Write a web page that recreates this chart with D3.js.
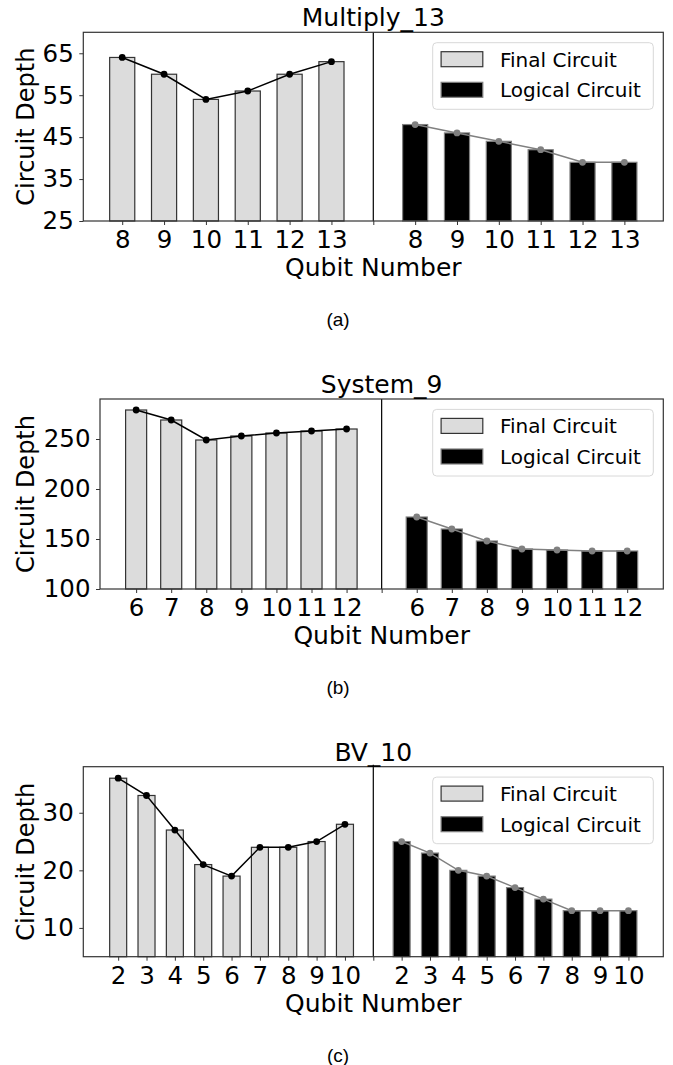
<!DOCTYPE html>
<html lang="en">
<head>
<meta charset="utf-8">
<title>Circuit Depth by Qubit Number</title>
<style>
  body { margin: 0; background: #fff; }
  svg text { font-family: "DejaVu Sans", sans-serif; fill: #000; }
  .sublabel { font-family: "Liberation Sans", Arial, sans-serif; }
</style>
</head>
<body>
<script src="https://cdn.jsdelivr.net/npm/d3@7"></script>
<script>
  // data
  var titles = ["Multiply_13", "System_9", "BV_10"];
  var subLabels = ["(a)", "(b)", "(c)"];

  var qubitsA = [8, 9, 10, 11, 12, 13];
  var finalA = [64, 60, 54, 56, 60, 63];
  var logicalA = [48, 46, 44, 42, 39, 39];
  var yTicksA = [25, 35, 45, 55, 65];
  var yRangeA = [25, 70];

  var qubitsB = [6, 7, 8, 9, 10, 11, 12];
  var finalB = [279, 269, 249, 253, 256, 258, 260];
  var logicalB = [172, 160, 148, 140, 139, 138, 138];
  var yTicksB = [100, 150, 200, 250];
  var yRangeB = [100, 290];

  var qubitsC = [2, 3, 4, 5, 6, 7, 8, 9, 10];
  var finalC = [36, 33, 27, 21, 19, 24, 24, 25, 28];
  var logicalC = [25, 23, 20, 19, 17, 15, 13, 13, 13];
  var yTicksC = [10, 20, 30];
  var yRangeC = [5, 38];

  var legendNames = ["Final Circuit", "Logical Circuit"];

  var w = 673, h = 1065;
  var svg = d3.select("body").append("svg").attr("width", w).attr("height", h);

  // axes boxes for each panel
  var panels = [
    {qubits: qubitsA, fin: finalA, log: logicalA, ticks: yTicksA, yr: yRangeA, left: 83.3, top: 32.3, bottom: 221},
    {qubits: qubitsB, fin: finalB, log: logicalB, ticks: yTicksB, yr: yRangeB, left: 100, top: 399, bottom: 589},
    {qubits: qubitsC, fin: finalC, log: logicalC, ticks: yTicksC, yr: yRangeC, left: 83.3, top: 766.7, bottom: 956.7}
  ];
  var right = 663.3;
  var barW = 0.6;

  panels.forEach(function(p, k) {
    var n = p.qubits.length;
    var span = 2 * n + barW;
    var pad = 0.05 * span;
    var x = d3.scaleLinear().domain([-barW / 2 - pad, 2 * n + barW / 2 + pad]).range([p.left, right]);
    var y = d3.scaleLinear().domain(p.yr).range([p.bottom, p.top]);

    var finData = p.fin.map(function(v, i) { return {pos: i, v: v}; });
    var logData = p.log.map(function(v, i) { return {pos: n + 1 + i, v: v}; });

    var g = svg.append("g");
    var bw = x(barW) - x(0);

    // bars
    g.selectAll("rect.fin").data(finData).enter().append("rect")
      .attr("x", function(d) { return x(d.pos) - bw / 2; })
      .attr("y", function(d) { return y(d.v); })
      .attr("width", bw)
      .attr("height", function(d) { return p.bottom - y(d.v); })
      .attr("fill", "#dcdcdc").attr("stroke", "#333").attr("stroke-width", 1.2);

    g.selectAll("rect.log").data(logData).enter().append("rect")
      .attr("x", function(d) { return x(d.pos) - bw / 2; })
      .attr("y", function(d) { return y(d.v); })
      .attr("width", bw)
      .attr("height", function(d) { return p.bottom - y(d.v); })
      .attr("fill", "#000").attr("stroke", "#808080").attr("stroke-width", 1.2);

    // lines with markers
    var line = d3.line().x(function(d) { return x(d.pos); }).y(function(d) { return y(d.v); });
    g.append("path").datum(finData).attr("d", line).attr("fill", "none").attr("stroke", "#000").attr("stroke-width", 1.5);
    g.selectAll("circle.fin").data(finData).enter().append("circle")
      .attr("cx", function(d) { return x(d.pos); }).attr("cy", function(d) { return y(d.v); })
      .attr("r", 3.4).attr("fill", "#000");
    g.append("path").datum(logData).attr("d", line).attr("fill", "none").attr("stroke", "#808080").attr("stroke-width", 1.5);
    g.selectAll("circle.log").data(logData).enter().append("circle")
      .attr("cx", function(d) { return x(d.pos); }).attr("cy", function(d) { return y(d.v); })
      .attr("r", 3.4).attr("fill", "#808080");

    // divider
    g.append("line").attr("x1", x(n)).attr("x2", x(n)).attr("y1", p.bottom).attr("y2", k == 2 ? p.top - 2 : p.top)
      .attr("stroke", "#000").attr("stroke-width", 1.2);

    // frame
    g.append("rect").attr("x", p.left).attr("y", p.top).attr("width", right - p.left).attr("height", p.bottom - p.top)
      .attr("fill", "none").attr("stroke", "#333").attr("stroke-width", 1.2);

    // axes
    var tickPos = d3.range(0, 2 * n + 1);
    var xAxis = d3.axisBottom(x).tickValues(tickPos).tickSize(4).tickPadding(5.5)
      .tickFormat(function(d) { return d < n ? p.qubits[d] : (d == n ? "" : p.qubits[d - n - 1]); });
    var ax = g.append("g").attr("transform", "translate(0," + p.bottom + ")").call(xAxis);
    ax.select(".domain").remove();
    ax.selectAll("text").style("font-size", "24.5px").attr("fill", "#000");
    ax.selectAll("line").attr("stroke", "#333");

    var yAxis = d3.axisLeft(y).tickValues(p.ticks).tickSize(4).tickPadding(5.5);
    var ay = g.append("g").attr("transform", "translate(" + p.left + ",0)").call(yAxis);
    ay.select(".domain").remove();
    ay.selectAll("text").style("font-size", "24.5px").attr("fill", "#000");
    ay.selectAll("line").attr("stroke", "#333");

    // labels
    g.append("text").text(titles[k]).attr("x", (p.left + right) / 2).attr("y", p.top - 6)
      .attr("text-anchor", "middle").style("font-size", "25px");
    g.append("text").text("Qubit Number").attr("x", x(n)).attr("y", p.bottom + 55)
      .attr("text-anchor", "middle").style("font-size", "25px");
    var cy = (p.top + p.bottom) / 2;
    g.append("text").text("Circuit Depth").attr("transform", "translate(34," + cy + ") rotate(-90)")
      .attr("text-anchor", "middle").style("font-size", "24px");
    g.append("text").text(subLabels[k]).attr("class", "sublabel").attr("x", 338).attr("y", p.bottom + 105)
      .attr("text-anchor", "middle").style("font-size", "19px");

    // legend
    var lg = g.append("g").attr("transform", "translate(" + (right - 230.6) + "," + (p.top + 10.4) + ")");
    lg.append("rect").attr("width", 220.6).attr("height", 66.6).attr("rx", 4)
      .attr("fill", "#fff").attr("fill-opacity", 0.8).attr("stroke", "#d8d8d8");
    var fills = ["#dcdcdc", "#000"], edges = ["#333", "#808080"];
    legendNames.forEach(function(name, j) {
      lg.append("rect").attr("x", 8.4).attr("y", 9 + j * 30.6).attr("width", 41.7).attr("height", 15)
        .attr("fill", fills[j]).attr("stroke", edges[j]).attr("stroke-width", 1.2);
      lg.append("text").text(name).attr("x", 67.3).attr("y", 24 + j * 30.6).style("font-size", "20px");
    });
  });
</script>
</body>
</html>
